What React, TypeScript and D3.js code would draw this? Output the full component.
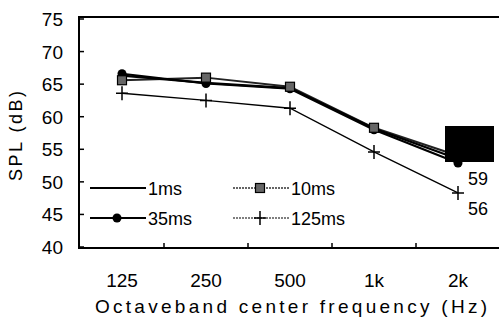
import { useEffect, useRef } from 'react'
import * as d3 from 'd3'

const categories = ['125', '250', '500', '1k', '2k']
const yTicks = [40, 45, 50, 55, 60, 65, 70, 75]
const ms1 = [66.3, 65.2, 64.4, 58.2, 53.5]
const ms10 = [65.6, 66.0, 64.6, 58.3, 54.0]
const ms35 = [66.6, 65.1, 64.3, 58.0, 52.9]
const ms125 = [63.6, 62.5, 61.3, 54.6, 48.3]
const endLabels = ['59', '56']

export default function App() {
  const svgRef = useRef<SVGSVGElement>(null)
  const width = 499
  const height = 322

  useEffect(() => {
    if (!svgRef.current) return
    const svg = d3.select(svgRef.current)
    svg.selectAll('*').remove()

    const left = 79, top = 17, right = 499, bottom = 248
    const font = 'Liberation Sans, Arial, sans-serif'

    const x = d3.scalePoint<string>().domain(categories).range([122, 458])
    const y = d3.scaleLinear().domain([40, 75]).range([247, 19])

    svg.append('rect').attr('width', width).attr('height', height).attr('fill', '#fff')

    // frame
    svg.append('path')
      .attr('d', `M${right},${top}H${left}V${bottom}H${right}`)
      .attr('fill', 'none').attr('stroke', '#000').attr('stroke-width', 2)

    // y ticks + labels
    yTicks.forEach(t => {
      svg.append('line')
        .attr('x1', left).attr('x2', left + 5)
        .attr('y1', y(t)).attr('y2', y(t))
        .attr('stroke', '#000').attr('stroke-width', 1.5)
      svg.append('text')
        .attr('x', 63).attr('y', y(t) + 7)
        .attr('text-anchor', 'end')
        .attr('font-family', font).attr('font-size', 19)
        .text(t)
    })

    // x tick marks between categories
    const step = x.step()
    categories.slice(0, -1).forEach(c => {
      const xm = (x(c) as number) + step / 2
      svg.append('line')
        .attr('x1', xm).attr('x2', xm)
        .attr('y1', bottom).attr('y2', bottom - 5)
        .attr('stroke', '#000').attr('stroke-width', 1.5)
    })
    categories.forEach(c => {
      svg.append('text')
        .attr('x', x(c) as number).attr('y', 287)
        .attr('text-anchor', 'middle')
        .attr('font-family', font).attr('font-size', 19)
        .text(c)
    })

    // axis titles
    svg.append('text')
      .attr('x', 95).attr('y', 313)
      .attr('textLength', 392).attr('lengthAdjust', 'spacing')
      .attr('font-family', font).attr('font-size', 19)
      .text('Octaveband center frequency (Hz)')
    svg.append('text')
      .attr('transform', 'translate(22,136) rotate(-90)')
      .attr('text-anchor', 'middle')
      .attr('textLength', 90).attr('lengthAdjust', 'spacing')
      .attr('font-family', font).attr('font-size', 18)
      .text('SPL (dB)')

    const line = d3.line<number>()
      .x((_, i) => x(categories[i]) as number)
      .y(d => y(d))

    const cross = (g: d3.Selection<SVGGElement, unknown, null, undefined>, cx: number, cy: number) => {
      g.append('path')
        .attr('d', `M${cx - 6},${cy}H${cx + 6}M${cx},${cy - 7}V${cy + 7}`)
        .attr('stroke', '#000').attr('stroke-width', 1.5)
    }
    const square = (g: d3.Selection<SVGGElement, unknown, null, undefined>, cx: number, cy: number) => {
      g.append('rect')
        .attr('x', cx - 4.5).attr('y', cy - 4.5).attr('width', 9).attr('height', 9)
        .attr('fill', '#666').attr('stroke', '#000').attr('stroke-width', 1.2)
    }
    const circle = (g: d3.Selection<SVGGElement, unknown, null, undefined>, cx: number, cy: number) => {
      g.append('circle').attr('cx', cx).attr('cy', cy).attr('r', 4.5).attr('fill', '#000')
    }

    const g = svg.append('g')

    // 125ms
    g.append('path').attr('d', line(ms125)).attr('fill', 'none')
      .attr('stroke', '#000').attr('stroke-width', 1.3)
    ms125.forEach((v, i) => cross(g, x(categories[i]) as number, y(v)))

    // 10ms
    g.append('path').attr('d', line(ms10)).attr('fill', 'none')
      .attr('stroke', '#222').attr('stroke-width', 2)
    // 1ms
    g.append('path').attr('d', line(ms1)).attr('fill', 'none')
      .attr('stroke', '#000').attr('stroke-width', 2.2)
    // 35ms
    g.append('path').attr('d', line(ms35)).attr('fill', 'none')
      .attr('stroke', '#000').attr('stroke-width', 2.2)
    ms35.forEach((v, i) => circle(g, x(categories[i]) as number, y(v)))
    ms10.forEach((v, i) => square(g, x(categories[i]) as number, y(v)))

    // redaction block at 2k
    g.append('rect').attr('x', 445).attr('y', 126).attr('width', 49).attr('height', 36).attr('fill', '#000')

    // end labels
    svg.append('text').attr('x', 468).attr('y', 185)
      .attr('font-family', font).attr('font-size', 18).text(endLabels[0])
    svg.append('text').attr('x', 468).attr('y', 215)
      .attr('font-family', font).attr('font-size', 18).text(endLabels[1])

    // legend
    const lg = svg.append('g')
    const items = [
      { label: '1ms', x0: 90, yy: 188, kind: 'line', w: 2 },
      { label: '35ms', x0: 90, yy: 218, kind: 'circle', w: 2 },
      { label: '10ms', x0: 233, yy: 188, kind: 'square', w: 1.5 },
      { label: '125ms', x0: 233, yy: 218, kind: 'cross', w: 1.2 },
    ]
    items.forEach(it => {
      lg.append('line').attr('x1', it.x0).attr('x2', it.x0 + 56)
        .attr('y1', it.yy).attr('y2', it.yy)
        .attr('stroke', it.kind === 'square' ? '#333' : '#000').attr('stroke-width', it.w)
        .attr('stroke-dasharray', it.kind === 'square' || it.kind === 'cross' ? '2,1' : null)
      const cx = it.x0 + 27
      if (it.kind === 'circle') circle(lg, cx, it.yy)
      if (it.kind === 'square') square(lg, cx, it.yy)
      if (it.kind === 'cross') cross(lg, cx, it.yy)
      lg.append('text').attr('x', it.x0 + 58).attr('y', it.yy + 6.5)
        .attr('font-family', font).attr('font-size', 18)
        .text(it.label)
    })
  }, [])

  return (
    <svg ref={svgRef} width={width} height={height}
      style={{ position: 'absolute', left: 0, top: 0, display: 'block' }} />
  )
}
